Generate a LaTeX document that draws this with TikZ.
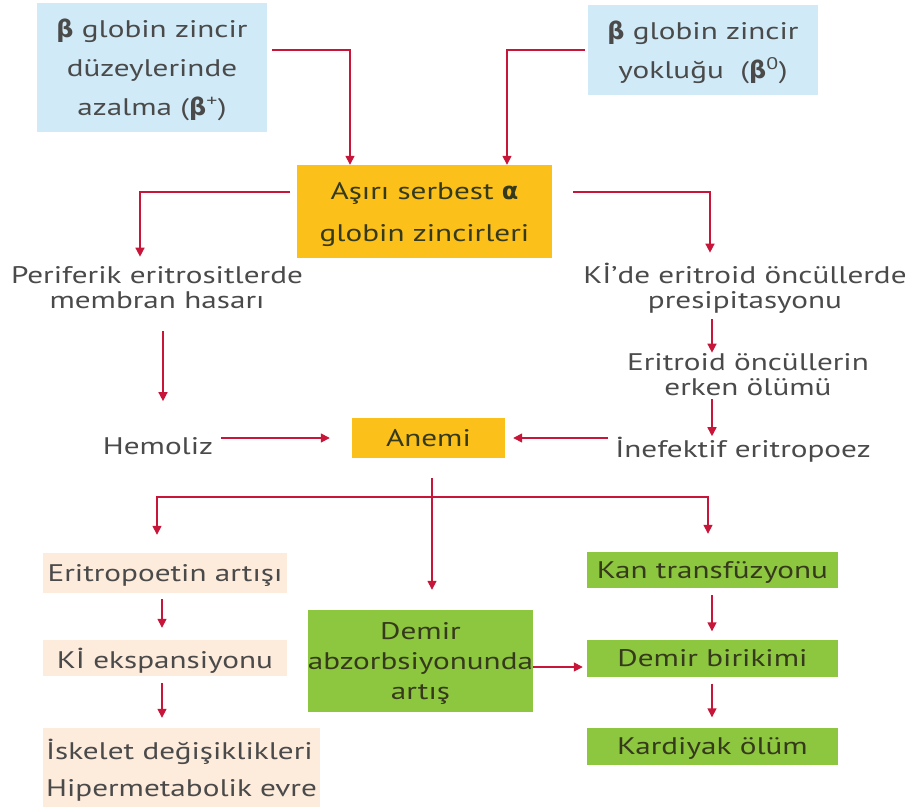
\documentclass[tikz,border=0pt]{standalone}
\usepackage{fontspec}
\setmainfont{PT Sans}[FakeStretch=1.3]
\newfontfamily\gk{DejaVu Sans}
\usetikzlibrary{arrows.meta}
\definecolor{bluebg}{HTML}{D0EAF7}
\definecolor{yellowbg}{HTML}{FBC01A}
\definecolor{greenbg}{HTML}{8DC63F}
\definecolor{peachbg}{HTML}{FDEBDC}
\definecolor{redc}{HTML}{C8163A}
\definecolor{txt}{HTML}{4A4A4A}
\definecolor{txtdark}{HTML}{363A1C}
\newcommand{\fs}[1]{\fontsize{24}{#1}\selectfont}
\newcommand{\bet}{{\gk\bfseries β}}
\tikzset{
  lbl/.style={inner sep=0pt, align=center, font=\fs{25}, text=txt},
  colbox/.style={rectangle, inner sep=0pt, align=center, text depth=0pt, font=\fs{25}},
  bluebox/.style={colbox, fill=bluebg, text=txt, font=\fs{39}},
  yellowbox/.style={colbox, fill=yellowbg, text=txtdark, font=\fs{42}},
  greenbox/.style={colbox, fill=greenbg, text=txtdark, font=\fs{30}},
  peachbox/.style={colbox, fill=peachbg, text=txt, font=\fs{37}},
  arr/.style={draw=redc, line width=1.5pt, -{Triangle[length=9pt,width=9pt]}}
}
\begin{document}
\begin{tikzpicture}[x=1pt,y=-1pt]
\useasboundingbox (0,0) rectangle (914,809);
% top boxes
\node[bluebox, minimum width=230pt, minimum height=129pt] (b1) at (152,67.5)
  {\bet\ globin zincir\\düzeylerinde\\azalma (\bet\textsuperscript{+})};
\node[bluebox, minimum width=230pt, minimum height=90pt] (b2) at (703,50)
  {\bet\ globin zincir\\yokluğu\ \ (\bet\textsuperscript{0})};
\node[yellowbox, minimum width=255pt, minimum height=93pt] (ax) at (424.5,211.5)
  {Aşırı serbest {\gk\bfseries α}\\globin zincirleri};
% second level
\node[lbl] (per) at (157,288) {Periferik eritrositlerde\\membran hasarı};
\node[lbl] (kide) at (745,288) {Kİ’de eritroid öncüllerde\\presipitasyonu};
\node[lbl] (erit) at (748,375) {Eritroid öncüllerin\\erken ölümü};
\node[lbl] (inef) at (743,450) {İnefektif eritropoez};
\node[lbl] (hemo) at (158,446) {Hemoliz};
\node[yellowbox, minimum width=153pt, minimum height=40pt] (anemi) at (428.5,438) {Anemi};
% bottom
\node[peachbox, minimum width=244pt, minimum height=40pt] (ep) at (165,573) {Eritropoetin artışı};
\node[peachbox, minimum width=244pt, minimum height=36pt] (ke) at (165,658) {Kİ ekspansiyonu};
\node[peachbox, minimum width=277pt, minimum height=79pt, align=left] (isk) at (181.5,767.5)
  {İskelet değişiklikleri\\Hipermetabolik evre};
\node[greenbox, minimum width=215pt, minimum height=102pt] (dem) at (420.5,661)
  {Demir\\abzorbsiyonunda\\artış};
\node[greenbox, minimum width=251pt, minimum height=36pt] (kan) at (712.5,570) {Kan transfüzyonu};
\node[greenbox, minimum width=251pt, minimum height=37pt] (db) at (712.5,658) {Demir birikimi};
\node[greenbox, minimum width=251pt, minimum height=37pt] (kard) at (712.5,746) {Kardiyak ölüm};
% connectors
\draw[arr] ([xshift=5pt,yshift=17.5pt]b1.east) -| ([xshift=-74.5pt]ax.north);
\draw[arr] ([xshift=-3pt]b2.west) -| ([xshift=82.5pt]ax.north);
\draw[arr, shorten >=10pt] ([xshift=-7pt,yshift=19.5pt]ax.west) -| ([xshift=-17pt]per.north);
\draw[arr, shorten >=10pt] ([xshift=21pt,yshift=19.5pt]ax.east) -| ([xshift=-35pt]kide.north);
\draw[arr, shorten <=22pt, shorten >=36pt] ([xshift=6pt]per.south) -- ([xshift=5pt]hemo.north);
\draw[arr, shorten <=6pt, shorten >=1pt] ([xshift=-33pt]kide.south) -- ([xshift=-36pt]erit.north);
\draw[arr, shorten <=3pt, shorten >=1pt] ([xshift=-36pt]erit.south) -- ([xshift=-31pt]inef.north);
\draw[arr, shorten <=8pt, shorten >=22pt] (hemo.east |- anemi.west) -- (anemi.west);
\draw[arr, shorten <=7pt, shorten >=8pt] (inef.west |- anemi.east) -- (anemi.east);
\coordinate (j) at (432,497);
\draw[arr, shorten <=20pt, shorten >=20pt] ([xshift=3.5pt]anemi.south) -- ([xshift=3.5pt]anemi.south |- dem.north);
\draw[arr, shorten >=18pt] (j) -| ([xshift=-8pt]ep.north);
\draw[arr, shorten >=18pt] (j) -| ([xshift=-4.5pt]kan.north);
\draw[arr, shorten <=6pt, shorten >=12pt] ([xshift=-3pt]ep.south) -- ([xshift=-3pt]ke.north);
\draw[arr, shorten <=7pt, shorten >=10pt] ([xshift=-3pt]ke.south) -- ([xshift=-19.5pt]isk.north);
\draw[arr, shorten >=4pt] ([yshift=-6pt]dem.east) -- ([yshift=-6pt]dem.east -| db.west);
\draw[arr, shorten <=7pt, shorten >=8pt] ([xshift=-0.5pt]kan.south) -- ([xshift=-0.5pt]db.north);
\draw[arr, shorten <=7pt, shorten >=10pt] ([xshift=-0.5pt]db.south) -- ([xshift=-0.5pt]kard.north);
\end{tikzpicture}
\end{document}
